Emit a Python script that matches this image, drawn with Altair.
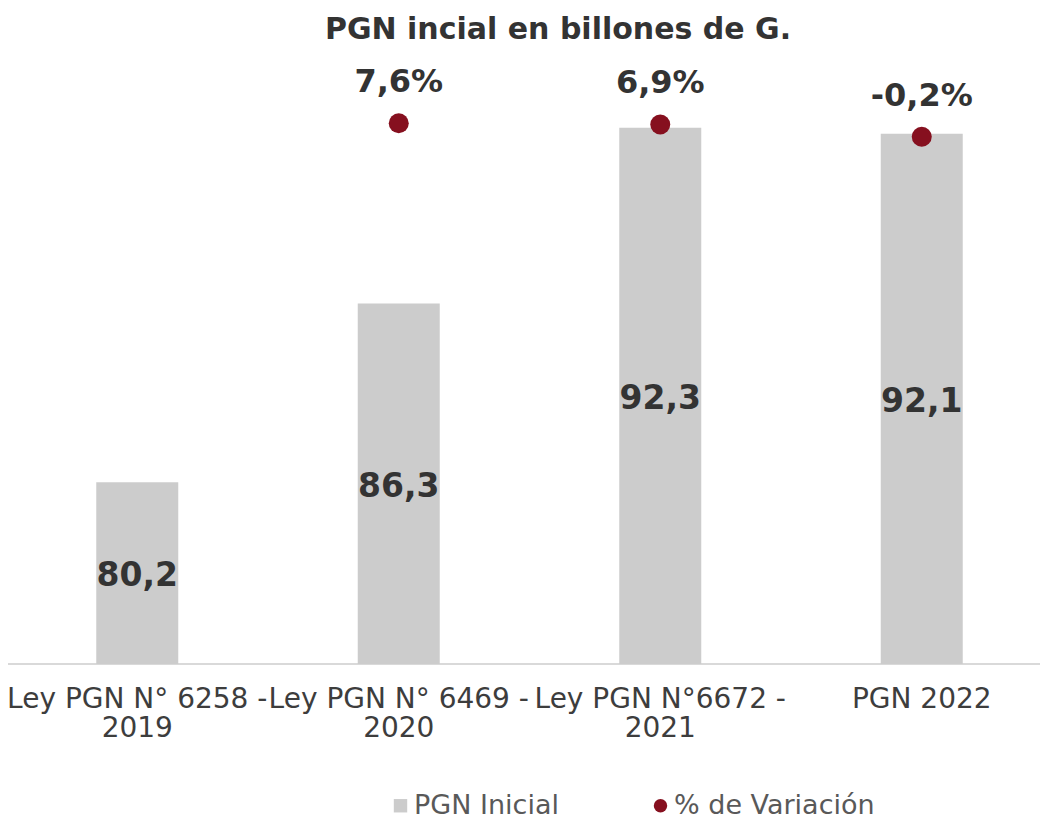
import altair as alt
import pandas as pd

# ---- data ----
categories = ["Ley PGN N° 6258 - 2019", "Ley PGN N° 6469 - 2020", "Ley PGN N°6672 - 2021", "PGN 2022"]
pgn_inicial = [80.2, 86.3, 92.3, 92.1]
var_categories = ["Ley PGN N° 6469 - 2020", "Ley PGN N°6672 - 2021", "PGN 2022"]
variacion = [7.6, 6.9, -0.2]
series_names = ["PGN Inicial", "% de Variación"]

bars_df = pd.DataFrame({"cat": categories, "v": pgn_inicial, "serie": series_names[0]})
dots_df = pd.DataFrame({"cat": var_categories, "p": variacion, "serie": series_names[1]})

Y_DOMAIN = [74, 94.785]
Y2_DOMAIN = [-307.1, 47.35]
FONT = "DejaVu Sans"
DARK = "#333333"
RED = "#86101f"
GREY = "#cccccc"

x_enc = alt.X(
    "cat:N",
    sort=categories,
    scale=alt.Scale(domain=categories, range=[-1.5, 1044.5]),
    axis=alt.Axis(
        title=None, labelAngle=0, ticks=False, domain=False, grid=False,
        labelFont=FONT, labelFontSize=28, labelColor="#3d3d3d",
        labelPadding=21, labelLineHeight=29, labelOverlap=False,
        labelLimit=0, labelBound=False,
        labelExpr="split(replace(datum.label, ' - ', ' -|'), '|')",
    ),
)

y_scale = alt.Scale(domain=Y_DOMAIN, zero=False, nice=False)
color_scale = alt.Scale(domain=series_names, range=[GREY, RED])
shape_scale = alt.Scale(domain=series_names, range=["square", "circle"])
legend = alt.Legend(
    title=None, orient="none", legendX=379, legendY=737, direction="horizontal",
    columns=2, columnPadding=88, labelOffset=0, padding=0, labelLimit=400,
    labelFont=FONT, labelFontSize=27, labelColor="#595959",
    symbolSize=180, symbolStrokeWidth=0,
)

bars = alt.Chart(bars_df).transform_calculate(
    base=str(Y_DOMAIN[0])
).mark_bar(width=82).encode(
    x=x_enc,
    y=alt.Y("v:Q", scale=y_scale, axis=None),
    y2="base:Q",
    color=alt.Color("serie:N", scale=color_scale, legend=legend),
)

bar_labels = alt.Chart(bars_df).transform_calculate(
    mid=f"(datum.v + {Y_DOMAIN[0]}) / 2",
    lbl="replace(format(datum.v, '.1f'), '.', ',')",
).mark_text(font=FONT, fontSize=33, fontWeight="bold", color=DARK, baseline="middle", dy=3).encode(
    x=alt.X("cat:N", sort=categories),
    y=alt.Y("mid:Q", scale=y_scale, axis=None),
    text="lbl:N",
)

baseline_rule = alt.Chart(bars_df).transform_aggregate(n="count()").transform_calculate(
    base=str(Y_DOMAIN[0])
).mark_rule(color="#d9d9d9", strokeWidth=2).encode(
    y=alt.Y("base:Q", scale=y_scale, axis=None),
)

dots = alt.Chart(dots_df).mark_point(filled=True, opacity=1, size=400).encode(
    x=alt.X("cat:N", sort=categories),
    y=alt.Y("p:Q", scale=alt.Scale(domain=Y2_DOMAIN, zero=False, nice=False), axis=None),
    color=alt.Color("serie:N", scale=color_scale, legend=legend),
    shape=alt.Shape("serie:N", scale=shape_scale, legend=legend),
)

dot_labels = alt.Chart(dots_df).transform_calculate(
    lbl="replace(replace(format(datum.p, '.1f'), '.', ','), '\u2212', '-') + '%'",
).mark_text(font=FONT, fontSize=32, fontWeight="bold", color=DARK, baseline="middle", dy=-41).encode(
    x=alt.X("cat:N", sort=categories),
    y=alt.Y("p:Q", scale=alt.Scale(domain=Y2_DOMAIN, zero=False, nice=False), axis=None),
    text="lbl:N",
)

chart = alt.layer(baseline_rule, bars, bar_labels, dots, dot_labels).resolve_scale(
    y="independent"
).properties(
    width=1032,
    height=609,
    background="white",
    autosize=alt.AutoSizeParams(type="none"),
    padding={"left": 0, "right": 0, "top": 47, "bottom": 160},
    title=alt.TitleParams(
        "PGN incial en billones de G.", font=FONT, fontSize=30, fontWeight="bold",
        color=DARK, anchor="middle", baseline="alphabetic", offset=-14, dx=34,
    ),
).configure_view(stroke=None)

chart.save("out.html", embed_options={"renderer": "svg", "actions": False})
